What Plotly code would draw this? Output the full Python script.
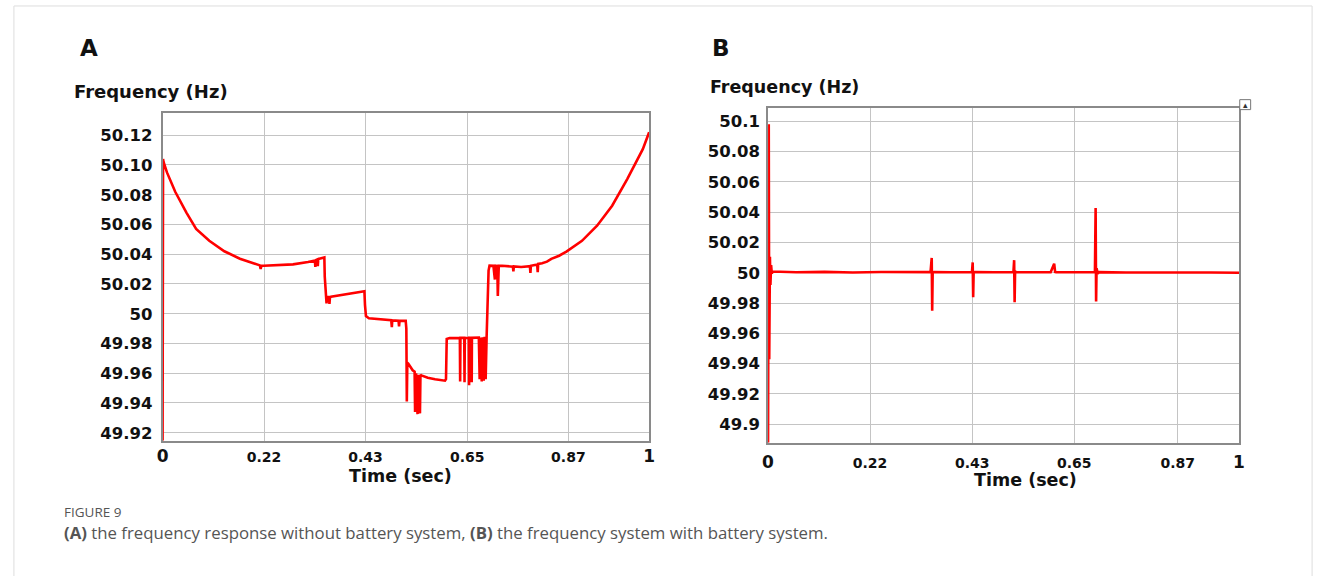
import plotly.graph_objects as go

# ---------------- Panel A: without battery system ----------------
a_time = [0.000, 0.001, 0.002, 0.009, 0.026, 0.049, 0.069, 0.096, 0.127, 0.159,
          0.190, 0.200, 0.2016, 0.203, 0.2077, 0.237, 0.268, 0.299, 0.313, 0.314,
          0.315, 0.318, 0.319, 0.320, 0.330, 0.3325, 0.3333, 0.336, 0.337, 0.338,
          0.342, 0.343, 0.344, 0.346, 0.385, 0.4148, 0.416, 0.418, 0.424, 0.448,
          0.470, 0.4712, 0.472, 0.485, 0.486, 0.487, 0.4997, 0.501, 0.5015, 0.502,
          0.503, 0.505, 0.514, 0.518, 0.519, 0.521, 0.524, 0.526, 0.529, 0.530,
          0.532, 0.545, 0.560, 0.5805, 0.5825, 0.584, 0.590, 0.600, 0.6110, 0.6116,
          0.6122, 0.620, 0.6206, 0.6212, 0.6294, 0.630, 0.6306, 0.635, 0.6354, 0.6358,
          0.650, 0.6517, 0.653, 0.656, 0.658, 0.660, 0.662, 0.664, 0.666, 0.670,
          0.672, 0.676, 0.680, 0.683, 0.685, 0.688, 0.689, 0.691, 0.698, 0.715,
          0.720, 0.721, 0.722, 0.737, 0.755, 0.756, 0.757, 0.765, 0.770, 0.771,
          0.772, 0.780, 0.790, 0.799, 0.815, 0.830, 0.862, 0.893, 0.924, 0.955,
          0.987, 1.000]
a_freq = [49.9146, 50.104, 50.102, 50.095, 50.082, 50.068, 50.057, 50.049, 50.042, 50.037,
          50.0335, 50.0325, 50.030, 50.0322, 50.0323, 50.0325, 50.0332, 50.0348, 50.0358, 50.0315,
          50.0360, 50.0365, 50.0320, 50.0368, 50.0379, 50.0378, 50.0250, 50.0111, 50.0070, 50.0112,
          50.0112, 50.0066, 50.0110, 50.0115, 50.0135, 50.0151, 50.0060, 49.9984, 49.9970, 49.9960,
          49.9956, 49.9910, 49.9955, 49.9953, 49.9915, 49.9952, 49.9952, 49.9900, 49.9676, 49.9410,
          49.9670, 49.9665, 49.9620, 49.9610, 49.9340, 49.9600, 49.9325, 49.9590, 49.9330, 49.9590,
          49.9585, 49.9570, 49.9560, 49.9550, 49.9560, 49.9830, 49.9836, 49.9838, 49.9836, 49.9545,
          49.9838, 49.9838, 49.9540, 49.9838, 49.9836, 49.9520, 49.9838, 49.9838, 49.9540, 49.9838,
          49.9840, 49.9560, 49.9840, 49.9545, 49.9842, 49.9550, 49.9845, 49.9560, 49.9845, 50.0290,
          50.0323, 50.0320, 50.0322, 50.0230, 50.0322, 50.0320, 50.0120, 50.0322, 50.0323, 50.0318,
          50.0316, 50.0285, 50.0318, 50.0314, 50.0320, 50.0275, 50.0322, 50.0328, 50.0330, 50.0280,
          50.0335, 50.0340, 50.0350, 50.0369, 50.0390, 50.0418, 50.0490, 50.0592, 50.0726, 50.0905,
          50.1106, 50.1220]

# ---------------- Panel B: with battery system ----------------
b_time = [0.000, 0.0015, 0.0025, 0.0040, 0.0050, 0.0065, 0.0080, 0.0100, 0.060, 0.120,
          0.180, 0.240, 0.300, 0.345, 0.3475, 0.3485, 0.3495, 0.352, 0.390, 0.433,
          0.4345, 0.4355, 0.4365, 0.439, 0.480, 0.521, 0.5225, 0.5235, 0.5245, 0.527,
          0.560, 0.600, 0.6075, 0.6095, 0.6115, 0.640, 0.694, 0.6955, 0.6965, 0.6975,
          0.7000, 0.7030, 0.760, 0.820, 0.880, 0.940, 1.000]
b_freq = [49.8878, 50.0980, 49.9430, 50.0106, 49.9920, 50.0050, 49.9995, 50.0008, 50.0003, 50.0006,
          50.0002, 50.0005, 50.0002, 50.0004, 50.0098, 49.9750, 50.0000, 50.0004, 50.0003, 50.0004,
          50.0068, 49.9839, 50.0000, 50.0004, 50.0003, 50.0004, 50.0083, 49.9806, 50.0010, 50.0004,
          50.0003, 50.0004, 50.0060, 50.0005, 50.0003, 50.0002, 50.0003, 50.0427, 49.9810, 50.0030,
          49.9995, 50.0004, 50.0002, 50.0003, 50.0001, 50.0002, 50.0000]

# ---------------- Axis ticks ----------------
a_x_tickvals = [0.0, 0.2085, 0.417, 0.626, 0.834, 1.0]
b_x_tickvals = [0.0, 0.2165, 0.4337, 0.650, 0.8697, 1.0]
x_ticktext = ["0", "0.22", "0.43", "0.65", "0.87", "1"]
a_y_tickvals = [50.12, 50.10, 50.08, 50.06, 50.04, 50.02, 50.00, 49.98, 49.96, 49.94, 49.92]
a_y_ticktext = ["50.12", "50.10", "50.08", "50.06", "50.04", "50.02", "50", "49.98", "49.96", "49.94", "49.92"]
b_y_tickvals = [50.10, 50.08, 50.06, 50.04, 50.02, 50.00, 49.98, 49.96, 49.94, 49.92, 49.90]
b_y_ticktext = ["50.1", "50.08", "50.06", "50.04", "50.02", "50", "49.98", "49.96", "49.94", "49.92", "49.9"]

W, H = 1327, 578
BOLD = "DejaVu Sans"
RED = "#ff0000"


def px(x):
    return x / W


def py(y):
    return 1 - y / H


def xticks(texts):
    out = []
    for t in texts:
        if t in ("0", "1"):
            out.append('<span style="font-size:17px">' + t + '</span>')
        else:
            out.append(t)
    return out


fig = go.Figure()
fig.add_trace(go.Scatter(x=a_time, y=a_freq, mode="lines", line=dict(color=RED, width=2.6),
                         xaxis="x", yaxis="y", showlegend=False, hoverinfo="skip"))
fig.add_trace(go.Scatter(x=b_time, y=b_freq, mode="lines", line=dict(color=RED, width=2.6),
                         xaxis="x2", yaxis="y2", showlegend=False, hoverinfo="skip"))

axis_common = dict(showgrid=True, gridcolor="#c4c4c4", gridwidth=1, zeroline=False,
                   showline=True, linecolor="#8a8a8a", linewidth=1.5, mirror=True,
                   ticks="", tickfont=dict(family=BOLD, size=16.5, color="#111111", weight="bold"),
                   fixedrange=True)
xtickfont = dict(family=BOLD, size=14, color="#111111", weight="bold")

fig.update_layout(
    width=W, height=H, margin=dict(l=0, r=0, t=0, b=0),
    paper_bgcolor="white", plot_bgcolor="white",
    xaxis=dict(domain=[px(158), px(649)], range=[0, 1], anchor="y",
               tickvals=a_x_tickvals, ticktext=xticks(x_ticktext), ticklabelstandoff=3,
               **{**axis_common, "tickfont": xtickfont}),
    yaxis=dict(domain=[py(442.3), py(113.3)], range=[49.9146, 50.135], anchor="x",
               tickvals=a_y_tickvals, ticktext=a_y_ticktext, ticklabelstandoff=5, **axis_common),
    xaxis2=dict(domain=[px(769), px(1244.3)], range=[0, 1], anchor="y2",
                tickvals=b_x_tickvals, ticktext=xticks(x_ticktext), ticklabelstandoff=7,
                **{**axis_common, "tickfont": xtickfont}),
    yaxis2=dict(domain=[py(444.3), py(108)], range=[49.8878, 50.109], anchor="x2",
                tickvals=b_y_tickvals, ticktext=b_y_ticktext, ticklabelstandoff=3, **axis_common),
)

ann = []


def text(x, y, s, size, xanchor="left", color="#111111", family=BOLD, bold=True):
    ann.append(dict(x=px(x), y=py(y), xref="paper", yref="paper", text=s, showarrow=False,
                    xanchor=xanchor, yanchor="middle",
                    font=dict(family=family, size=size, color=color, weight="bold" if bold else "normal")))


text(73, 48, "A", 23)
text(710, 48, "B", 23)
text(67, 92, "Frequency (Hz)", 18)
text(708, 87, "Frequency (Hz)", 17.5)
text(398, 478, "Time (sec)", 17.5, xanchor="center")
text(1029, 482, "Time (sec)", 17.5, xanchor="center")
text(57, 514, "FIGURE 9", 13.5, color="#555555", family="Open Sans", bold=False)
text(57, 534, "<b>(A)</b> the frequency response without battery system, <b>(B)</b> the frequency system with battery system.",
     16.8, color="#555555", family="Open Sans", bold=False)
fig.update_layout(annotations=ann)

shapes = [
    # outer light frame
    dict(type="line", xref="paper", yref="paper", x0=px(8), x1=px(1318), y0=py(6), y1=py(6),
         line=dict(color="#dddddd", width=1)),
    dict(type="line", xref="paper", yref="paper", x0=px(8), x1=px(8), y0=py(6), y1=0,
         line=dict(color="#dddddd", width=1)),
    dict(type="line", xref="paper", yref="paper", x0=px(1318), x1=px(1318), y0=py(6), y1=0,
         line=dict(color="#dddddd", width=1)),
    # small icon box at top-right of panel B
    dict(type="rect", xref="paper", yref="paper", x0=px(1245), x1=px(1256), y0=py(110), y1=py(100),
         line=dict(color="#777777", width=1), fillcolor="white"),
]
fig.update_layout(shapes=shapes)
fig.add_annotation(x=px(1250.5), y=py(105), xref="paper", yref="paper", text="▴", showarrow=False,
                   font=dict(size=9, color="#333333"), xanchor="center", yanchor="middle")

fig.write_html("out.html")
